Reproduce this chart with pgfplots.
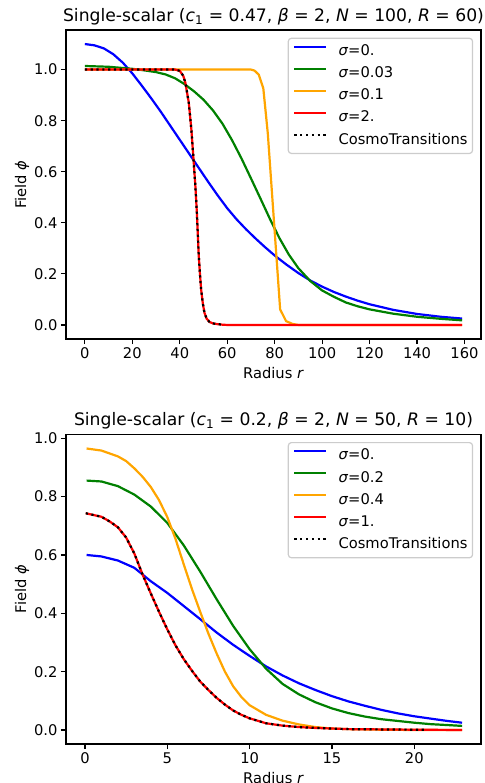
\documentclass[border=0pt]{standalone}
\usepackage{fontspec}
\setmainfont{DejaVu Sans}
\usepackage{pgfplots}
\pgfplotsset{compat=1.18}

\definecolor{mplorange}{RGB}{255,165,0}
\definecolor{mplgreen}{RGB}{0,128,0}

\newcommand{\lbl}{\fontsize{14.7bp}{17bp}\selectfont}
\newcommand{\ttl}{\fontsize{17.2bp}{21bp}\selectfont}

\pgfplotsset{
  mpl/.style={
    scale only axis,
    width=415bp,
    axis line style={line width=1.2bp},
    tick align=outside,
    tick pos=left,
    major tick length=5.1bp,
    every tick/.style={line width=1.2bp, black},
    tick label style={font=\lbl},
    /pgf/number format/assume math mode=true,
    yticklabel style={/pgf/number format/fixed, /pgf/number format/fixed zerofill, /pgf/number format/precision=1},
    ytick={0,0.2,0.4,0.6,0.8,1.0},
    xlabel={Radius \textit{r}},
    ylabel={Field \textit{ϕ}},
    every axis x label/.style={at={(rel axis cs:0.5,0)}, anchor=center, yshift=-34bp, font=\lbl},
    every axis y label/.style={at={(rel axis cs:0,0.5)}, xshift=-44bp, rotate=90, anchor=center, font=\lbl},
    every axis title/.style={at={(rel axis cs:0.5,1)}, anchor=base, yshift=8.5bp, font=\ttl},
    legend style={at={(0.981,0.975)}, anchor=north east, draw=black!20, line width=1.2bp,
      rounded corners=3bp, fill=white, font=\lbl, inner xsep=5bp, inner ysep=2.3bp, row sep=0bp,
      nodes={inner xsep=0bp, inner ysep=4bp, text height=11bp, text depth=3.1bp},
      /tikz/every odd column/.style={column sep=11bp}},
    legend cell align=left,
    legend image code/.code={\draw[#1] (0bp,5bp) -- (32bp,5bp);},
    every axis plot/.append style={line width=2.2bp},
  }
}

\begin{document}
\begin{tikzpicture}
\useasboundingbox (0,0) rectangle (485bp,783bp);

% top panel
\begin{axis}[mpl,
  at={(66bp,444bp)}, anchor=south west,
  height=309bp,
  xmin=-7.95, xmax=166.95, ymin=-0.055, ymax=1.155,
  xtick={0,20,40,60,80,100,120,140,160},
  title={Single-scalar (\textit{c}\textsubscript{1} = 0.47, \textit{β} = 2, \textit{N} = 100, \textit{R} = 60)},
]
\addplot[blue] coordinates {
(0,1.100)(4,1.095)(8,1.083)(12,1.06)(16,1.027)(20,0.985)(24,0.937)(28,0.887)(32,0.835)(36,0.78)(40,0.725)(44,0.67)(48,0.615)(52,0.56)(56,0.507)(60,0.457)(64,0.413)(68,0.374)(72,0.338)(76,0.304)(80,0.272)(85,0.236)(90,0.203)(95,0.174)(100,0.15)(105,0.129)(110,0.111)(115,0.095)(120,0.081)(130,0.059)(140,0.043)(150,0.032)(159,0.025)
};
\addplot[mplgreen] coordinates {
(0,1.014)(10,1.011)(20,1.003)(25,0.997)(30,0.99)(34,0.981)(38,0.966)(42,0.943)(46,0.915)(50,0.882)(54,0.84)(58,0.788)(62,0.724)(66,0.652)(70,0.574)(74,0.495)(78,0.415)(82,0.34)(86,0.275)(90,0.222)(95,0.172)(100,0.135)(105,0.11)(110,0.088)(115,0.073)(120,0.061)(130,0.044)(140,0.032)(150,0.024)(159,0.018)
};
\addplot[mplorange] coordinates {
(0,1.0)(70,1.0)(71.5,0.996)(73.3,0.98)(75.2,0.927)(77.1,0.75)(82.3,0.061)(84.8,0.015)(87.5,0.004)(90,0.0)(159,0.0)
};
\addplot[red] coordinates {
(0,1.0)(38,1.0)(40,0.995)(41.5,0.975)(42.4,0.947)(43.8,0.87)(44.9,0.764)(45.9,0.634)(46.6,0.54)(47.2,0.44)(48,0.27)(48.5,0.2)(49,0.139)(49.7,0.085)(50.4,0.048)(51.3,0.025)(52.5,0.012)(54,0.006)(56,0.003)(58,0.001)(60,0.0)(159,0.0)
};
\addplot[black, dash pattern=on 2.2bp off 3.6bp] coordinates {
(0,1.0)(38,1.0)(40,0.995)(41.5,0.975)(42.4,0.947)(43.8,0.87)(44.9,0.764)(45.9,0.634)(46.6,0.54)(47.2,0.44)(48,0.27)(48.5,0.2)(49,0.139)(49.7,0.085)(50.4,0.048)(51.3,0.025)(52.5,0.012)(54,0.006)(56,0.003)(58.8,0.001)
};
\legend{\textit{σ}=0.,\textit{σ}=0.03,\textit{σ}=0.1,\textit{σ}=2.,CosmoTransitions}
\end{axis}

% bottom panel
\begin{axis}[mpl,
  at={(66bp,39bp)}, anchor=south west,
  height=309.7bp,
  xmin=-1.15, xmax=24.05, ymin=-0.048, ymax=1.0137,
  xtick={0,5,10,15,20},
  title={Single-scalar (\textit{c}\textsubscript{1} = 0.2, \textit{β} = 2, \textit{N} = 50, \textit{R} = 10)},
]
\addplot[blue] coordinates {
(0.1,0.6)(1,0.595)(2,0.581)(3,0.556)(4,0.51)(5,0.47)(6,0.425)(7,0.38)(8,0.334)(9,0.292)(10,0.254)(11,0.218)(12,0.187)(13,0.16)(14,0.137)(15,0.116)(16,0.098)(17,0.083)(18,0.069)(19,0.057)(20,0.047)(21,0.039)(22,0.031)(22.9,0.025)
};
\addplot[mplgreen] coordinates {
(0.1,0.855)(1,0.852)(2,0.836)(3,0.807)(4,0.766)(5,0.71)(6,0.633)(7,0.543)(8,0.448)(9,0.357)(10,0.277)(11,0.21)(12,0.158)(13,0.122)(14,0.095)(15,0.074)(16,0.058)(17,0.046)(18,0.037)(19,0.031)(20,0.025)(21,0.02)(22,0.017)(22.9,0.014)
};
\addplot[mplorange] coordinates {
(0.1,0.965)(1,0.958)(2,0.938)(2.5,0.922)(3,0.897)(3.5,0.868)(4,0.833)(4.5,0.788)(5,0.73)(5.5,0.655)(6,0.568)(6.5,0.483)(7,0.405)(7.5,0.33)(8,0.262)(8.5,0.2)(9,0.15)(9.5,0.113)(10,0.085)(11,0.052)(12,0.032)(13,0.019)(14,0.01)(15,0.005)(16,0.003)(18,0.001)(20,0.0)(22.9,0.0)
};
\addplot[red] coordinates {
(0.05,0.743)(1,0.731)(1.5,0.715)(2,0.695)(2.5,0.66)(3,0.605)(3.5,0.533)(4,0.468)(4.5,0.405)(5,0.345)(5.5,0.29)(6,0.243)(6.5,0.203)(7,0.166)(7.5,0.137)(8,0.11)(8.5,0.087)(9,0.067)(9.5,0.052)(10,0.04)(11,0.023)(12,0.015)(13,0.01)(14,0.007)(15,0.005)(16,0.003)(18,0.002)(20,0.001)(22.9,0.0)
};
\addplot[black, dash pattern=on 2.2bp off 3.6bp] coordinates {
(0.05,0.743)(1,0.731)(1.5,0.715)(2,0.695)(2.5,0.66)(3,0.605)(3.5,0.533)(4,0.468)(4.5,0.405)(5,0.345)(5.5,0.29)(6,0.243)(6.5,0.203)(7,0.166)(7.5,0.137)(8,0.11)(8.5,0.087)(9,0.067)(9.5,0.052)(10,0.04)(11,0.023)(12,0.015)(13,0.01)(14,0.007)(15,0.005)(16,0.003)(18,0.002)(20,0.001)(20.8,0.001)
};
\legend{\textit{σ}=0.,\textit{σ}=0.2,\textit{σ}=0.4,\textit{σ}=1.,CosmoTransitions}
\end{axis}
\end{tikzpicture}
\end{document}
